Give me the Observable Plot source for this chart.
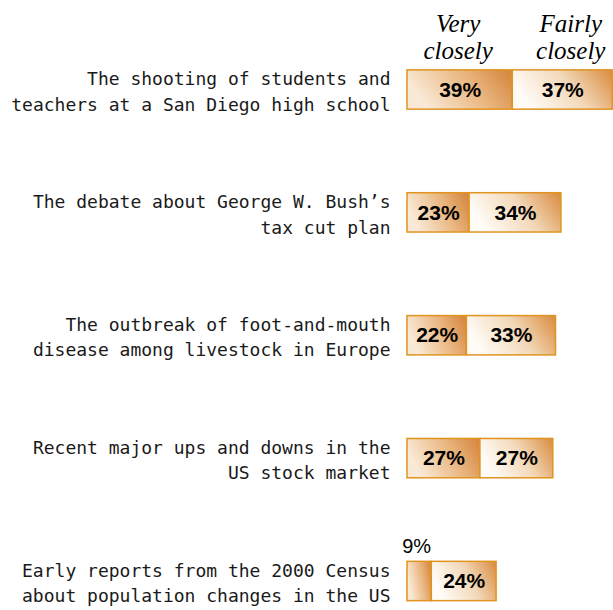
<!DOCTYPE html>
<html>
<head>
<meta charset="utf-8">
<script src="https://cdn.jsdelivr.net/npm/d3@7"></script>
<script src="https://cdn.jsdelivr.net/npm/@observablehq/plot@0.6"></script>
<style>
  html, body { margin: 0; padding: 0; background: #fff; }
</style>
</head>
<body>
<div id="chart"></div>
<script>
const topics = [
  "The shooting of students and\nteachers at a San Diego high school",
  "The debate about George W. Bush’s\ntax cut plan",
  "The outbreak of foot-and-mouth\ndisease among livestock in Europe",
  "Recent major ups and downs in the\nUS stock market",
  "Early reports from the 2000 Census\nabout population changes in the US"
];
const veryClosely = [39, 23, 22, 27, 9];
const fairlyClosely = [37, 34, 33, 27, 24];
const headers = ["Very\nclosely", "Fairly\nclosely"];

const segments = [];
topics.forEach((t, i) => {
  segments.push({i, series: "very", x1: 0, x2: veryClosely[i], value: veryClosely[i]});
  segments.push({i, series: "fairly", x1: veryClosely[i], x2: veryClosely[i] + fairlyClosely[i], value: fairlyClosely[i]});
});
const inside = segments.filter(d => d.value >= 15);
const outside = segments.filter(d => d.value < 15);
const labels = topics.map((t, i) => ({i, text: t}));

const headerStyle = {
  frameAnchor: "top", dy: 36, lineAnchor: "middle", lineHeight: 1.1,
  fontFamily: "Liberation Serif, Times New Roman, serif",
  fontStyle: "italic", fontSize: 25, fill: "#000"
};

const chart = Plot.plot({
  width: 613,
  height: 610,
  marginLeft: 0, marginRight: 0, marginTop: 0, marginBottom: 0,
  x: {domain: [0, 76], range: [407, 407 + 76 * 2.7], axis: null},
  y: {domain: [0, 4], range: [89.5, 581], axis: null},
  marks: [
    Plot.rect(segments, {
      x1: "x1", x2: "x2",
      y1: d => d.i - 0.16, y2: d => d.i + 0.16,
      fill: d => d.series === "very" ? "url(#gv)" : "url(#gf)",
      stroke: "#e0941f", strokeWidth: 1.5
    }),
    Plot.text(inside, {
      x: d => (d.x1 + d.x2) / 2, y: "i",
      text: d => d.value + "%",
      fontFamily: "Liberation Sans, Arial, sans-serif",
      fontWeight: "bold", fontSize: 21, fill: "#000"
    }),
    Plot.text(outside, {
      x: d => (d.x1 + d.x2) / 2, y: "i", dx: -3, dy: -35,
      text: d => d.value + "%",
      fontFamily: "Liberation Sans, Arial, sans-serif",
      fontSize: 20, fill: "#000"
    }),
    Plot.text(labels, {
      x: 0, y: "i", dx: -17,
      text: "text", textAnchor: "end", lineHeight: 1.4,
      fontFamily: "DejaVu Sans Mono, monospace", fontSize: 18, fill: "#1a1a1a"
    }),
    Plot.text([headers[0]], {
      x: () => veryClosely[0] / 2, text: d => d, dx: -2, ...headerStyle
    }),
    Plot.text([headers[1]], {
      x: () => veryClosely[0] + fairlyClosely[0] / 2, text: d => d, dx: 8, ...headerStyle
    })
  ]
});

const svg = d3.select(chart);
const defs = svg.insert("defs", ":first-child");
const gv = defs.append("linearGradient").attr("id", "gv").attr("x1", "0").attr("y1", "0.3").attr("x2", "1").attr("y2", "0");
gv.append("stop").attr("offset", "0%").attr("stop-color", "#f9e9d6");
gv.append("stop").attr("offset", "55%").attr("stop-color", "#e9b57e");
gv.append("stop").attr("offset", "100%").attr("stop-color", "#d4833a");
const gf = defs.append("linearGradient").attr("id", "gf").attr("x1", "0").attr("y1", "0.3").attr("x2", "1").attr("y2", "0");
gf.append("stop").attr("offset", "0%").attr("stop-color", "#fffbf6");
gf.append("stop").attr("offset", "50%").attr("stop-color", "#f2d8b8");
gf.append("stop").attr("offset", "100%").attr("stop-color", "#d98b3e");

document.getElementById("chart").appendChild(chart);
</script>
</body>
</html>
